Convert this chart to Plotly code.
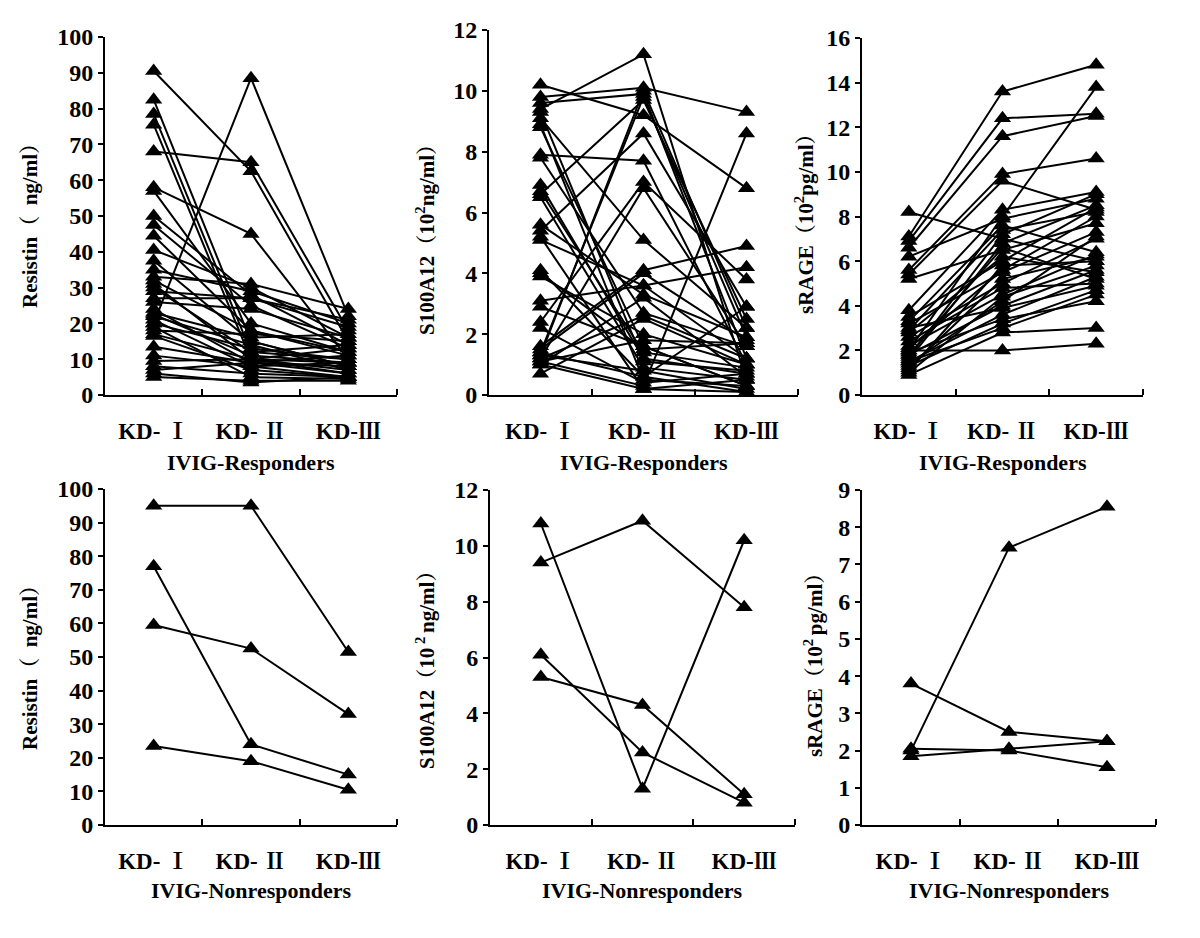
import plotly.graph_objects as go

W, H = 1200, 938

categories = ["KD- Ⅰ", "KD- Ⅱ", "KD-Ⅲ"]
cat_pos = [1, 2, 3]

# Each row: one patient, values at KD-I, KD-II, KD-III
resistin_resp = [
    [90.5, 62.5, 15], [68, 65, 18], [20, 88.5, 22], [82.5, 15, 8], [78.5, 12, 10],
    [75.5, 10, 9], [58, 45, 10], [57, 20, 12], [50, 28, 14], [47.5, 25, 13],
    [44.5, 18, 11], [40.5, 30, 16], [37.5, 15, 8], [33, 31, 24], [31, 10, 7],
    [29, 27, 21], [27, 27, 19], [24, 9, 6], [22.5, 11, 9], [21, 8, 5],
    [20, 13, 10], [18, 17, 15], [16.5, 7, 5], [13.5, 9, 11], [9.5, 10, 6],
    [8, 6, 5], [7, 9, 8], [5, 4, 4], [23, 16, 17], [30, 12, 14],
    [19, 5, 4.5], [32, 18, 12], [22, 14, 7], [17, 10, 13], [26, 24, 16],
    [11, 8, 9], [6, 3.5, 5], [35, 29, 20],
]
s100_resp = [
    [9.4, 11.2, 0.5], [10.2, 9.2, 6.8], [9.8, 10.1, 9.3], [9.6, 9.9, 1.2], [9.1, 5.1, 2.2],
    [8.8, 1.6, 0.3], [7.9, 7.7, 1.0], [7.8, 2.7, 1.6], [6.9, 1.2, 0.7], [6.6, 9.7, 2.5],
    [6.5, 0.9, 0.5], [5.6, 3.3, 1.9], [5.4, 8.6, 2.9], [5.1, 3.6, 1.2], [4.1, 0.6, 0.1],
    [3.9, 2.0, 1.0], [3.1, 3.6, 4.2], [2.9, 1.6, 0.3], [2.4, 7.0, 3.8], [2.2, 0.4, 0.7],
    [1.6, 4.1, 4.9], [1.4, 9.8, 1.9], [1.3, 10.0, 2.2], [1.2, 6.8, 1.6], [1.1, 0.3, 8.6],
    [1.0, 0.2, 0.5], [0.7, 2.5, 1.0], [1.5, 4.0, 1.8], [1.3, 0.8, 0.2], [9.3, 1.1, 0.8],
    [1.2, 2.6, 1.2], [8.9, 0.5, 0.3], [4.0, 1.5, 1.7], [1.4, 0.6, 2.9], [1.0, 3.2, 0.6],
    [5.2, 0.2, 0.1], [1.1, 1.8, 1.7], [6.7, 1.4, 0.9],
]
srage_resp = [
    [7.1, 13.6, 14.8], [6.9, 12.4, 12.6], [6.6, 11.6, 12.5], [5.6, 9.9, 10.6], [5.4, 9.6, 8.3],
    [2.0, 8.0, 13.8], [8.2, 7.0, 6.0], [6.2, 7.9, 8.8], [5.2, 6.5, 7.7], [3.8, 8.3, 9.1],
    [3.5, 6.0, 8.4], [3.2, 5.5, 7.3], [2.9, 7.4, 8.2], [2.6, 5.0, 7.0], [2.2, 4.5, 6.3],
    [2.0, 2.0, 2.3], [1.8, 4.0, 5.6], [1.5, 3.6, 5.3], [1.3, 3.2, 4.7], [1.1, 5.8, 6.0],
    [0.9, 2.8, 3.0], [1.6, 6.8, 8.5], [2.4, 4.8, 5.0], [1.9, 3.4, 4.2], [1.2, 5.2, 6.2],
    [2.8, 6.2, 5.5], [1.4, 4.2, 7.1], [3.0, 3.9, 4.9], [1.7, 7.2, 9.0], [1.0, 4.4, 5.8],
    [2.1, 5.6, 8.0], [1.5, 3.0, 4.5], [3.3, 7.6, 6.4], [1.8, 6.6, 5.2],
]
resistin_non = [[95, 95, 51.5], [77, 24, 15], [59.5, 52.5, 33], [23.5, 19, 10.5]]
s100_non = [[10.8, 1.3, 10.2], [9.4, 10.9, 7.8], [6.1, 2.6, 0.8], [5.3, 4.3, 1.1]]
srage_non = [[2.0, 7.45, 8.55], [3.8, 2.5, 2.25], [2.05, 2.0, 1.55], [1.85, 2.05, 2.25]]

y_titles = [
    "Resistin（  ng/ml）",
    "S100A12（10<sup>2</sup>ng/ml）",
    "sRAGE（10<sup>2</sup>pg/ml）",
    "Resistin（  ng/ml）",
    "S100A12（10<sup> 2 </sup>ng/ml）",
    "sRAGE（10<sup>2 </sup>pg/ml）",
]
x_titles = ["IVIG-Responders"] * 3 + ["IVIG-Nonresponders"] * 3
y_max = [100, 12, 16, 100, 12, 9]
y_dtick = [10, 2, 2, 10, 2, 1]
datasets = [resistin_resp, s100_resp, srage_resp, resistin_non, s100_non, srage_non]

# layout boxes in pixels: (x_left, x_right, y_top, y_bottom)
boxes = [
    (105, 397, 37, 395), (489, 798, 30, 395), (862, 1143, 38, 395),
    (105, 397, 489, 825), (490, 795, 490, 825), (862, 1156, 490, 825),
]
ytitle_pos = [(30, 221), (425, 235), (805, 218), (30, 663), (425, 665), (813, 660)]
xtitle_y = [463, 463, 463, 890, 890, 890]

FONT = "Times New Roman, Liberation Serif, Noto Serif CJK SC, Noto Sans CJK SC, serif"
fig = go.Figure()
annotations = []
for i, (data, box) in enumerate(zip(datasets, boxes)):
    n = i + 1
    xa = "x" if n == 1 else f"x{n}"
    ya = "y" if n == 1 else f"y{n}"
    for row in data:
        fig.add_trace(go.Scatter(
            x=cat_pos, y=row, mode="lines+markers", xaxis=xa, yaxis=ya,
            line=dict(color="black", width=2),
            marker=dict(symbol="triangle-up", size=15, color="black"),
            cliponaxis=False, showlegend=False, hoverinfo="skip",
        ))
    xl, xr, yt, yb = box
    xkey = "xaxis" if n == 1 else f"xaxis{n}"
    ykey = "yaxis" if n == 1 else f"yaxis{n}"
    fig.layout[xkey] = dict(
        domain=[xl / W, xr / W], anchor=ya, range=[0.5, 3.5],
        tickvals=cat_pos, ticktext=categories, ticks="",
        ticklabelstandoff=14, automargin=False,
        minor=dict(tickvals=[1.5, 2.5, 3.5], ticks="inside", ticklen=6,
                   tickwidth=2, tickcolor="black"),
        showline=True, linecolor="black", linewidth=2, showgrid=False,
        zeroline=False, fixedrange=True,
        tickfont=dict(family=FONT, size=23, color="black", weight="bold"),
    )
    fig.layout[ykey] = dict(
        domain=[1 - yb / H, 1 - yt / H], anchor=xa, range=[0, y_max[i]],
        dtick=y_dtick[i], tick0=0, ticks="outside", ticklen=5, tickwidth=2,
        tickcolor="black", showline=True, linecolor="black", linewidth=2,
        showgrid=False, zeroline=False, fixedrange=True, automargin=False,
        tickfont=dict(family=FONT, size=24, color="black", weight="bold"),
    )
    tx, ty = ytitle_pos[i]
    annotations.append(dict(
        text=y_titles[i], x=tx / W, y=1 - ty / H, xref="paper", yref="paper",
        textangle=-90, showarrow=False, xanchor="center", yanchor="middle",
        font=dict(family=FONT, size=21, color="black", weight="bold"),
    ))
    annotations.append(dict(
        text=x_titles[i], x=(xl + xr) / 2 / W, y=1 - xtitle_y[i] / H,
        xref="paper", yref="paper", showarrow=False,
        xanchor="center", yanchor="middle",
        font=dict(family=FONT, size=22, color="black", weight="bold"),
    ))

fig.update_layout(
    width=W, height=H, margin=dict(l=0, r=0, t=0, b=0, autoexpand=False),
    paper_bgcolor="white", plot_bgcolor="white",
    annotations=annotations, showlegend=False,
)
fig.write_html(
    "out.html",
    config={"displayModeBar": False},
    post_script="document.body.style.margin='0';document.body.style.padding='0';",
)
